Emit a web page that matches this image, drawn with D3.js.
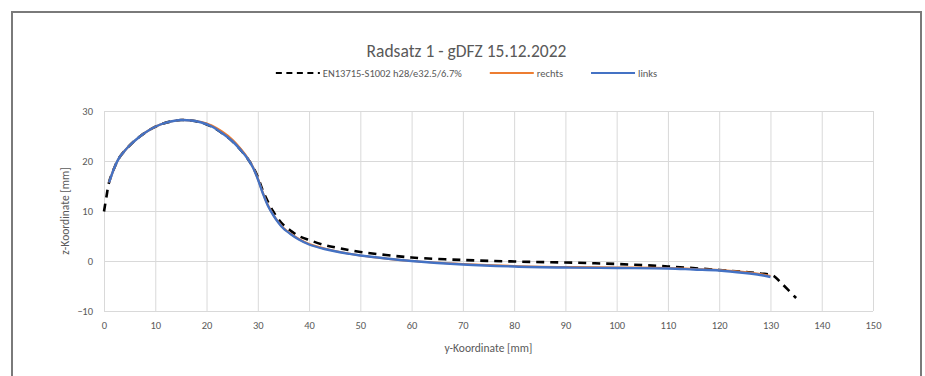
<!DOCTYPE html>
<html>
<head>
<meta charset="utf-8">
<script src="https://cdn.jsdelivr.net/npm/d3@7"></script>
<style>
  html, body { margin: 0; padding: 0; background: #fff; }
  svg { display: block; font-family: Carlito, Calibri, Lato, sans-serif; }
</style>
</head>
<body>
<svg id="chart" width="925" height="376"></svg>
<script>
// ---- data ----
const chartTitle = "Radsatz 1 - gDFZ 15.12.2022";
const seriesNames = ["EN13715-S1002 h28/e32.5/6.7%", "rechts", "links"];
const xTicks = [0, 10, 20, 30, 40, 50, 60, 70, 80, 90, 100, 110, 120, 130, 140, 150];
const yTicks = [-10, 0, 10, 20, 30];
const xLabel = "y-Koordinate [mm]";
const yLabel = "z-Koordinate [mm]";

const normY = [0, 0.5, 1, 2, 3, 5, 7, 9, 11, 13, 15, 17, 19, 21, 23, 25, 27, 28, 29, 30, 31, 32, 33, 34, 35, 36.5, 38, 40, 43, 46, 50, 55, 60, 70, 80, 90, 100, 110, 120, 125, 128, 130.5, 132, 135];
const normZ = [9.9, 13.0, 15.8, 18.6, 20.7, 23.1, 24.9, 26.3, 27.3, 27.9, 28.2, 28.1, 27.7, 26.9, 25.6, 24.0, 21.8, 20.5, 18.9, 16.8, 14.0, 11.8, 9.9, 8.4, 7.2, 6.0, 5.0, 4.2, 3.2, 2.55, 1.8, 1.2, 0.7, 0.2, -0.1, -0.3, -0.6, -1.1, -1.8, -2.2, -2.5, -2.9, -4.3, -7.4];

const rechtsY = [1, 2, 3, 4, 5, 7, 9, 11, 13, 15, 17, 19, 21, 23, 25, 27, 28, 29, 30, 31, 32, 33, 34, 35, 36.5, 38, 40, 43, 46, 50, 55, 60, 70, 80, 90, 100, 110, 115, 120, 125, 128, 130];
const rechtsZ = [15.7, 18.6, 20.7, 22.0, 23.1, 24.9, 26.3, 27.3, 27.9, 28.2, 28.1, 27.8, 27.1, 25.9, 24.3, 22.0, 20.6, 18.9, 16.5, 13.6, 11.1, 9.3, 7.8, 6.6, 5.4, 4.4, 3.4, 2.5, 1.8, 1.1, 0.5, 0.0, -0.6, -1.0, -1.2, -1.3, -1.4, -1.6, -1.8, -2.2, -2.6, -3.0];

const linksY = [1, 2, 3, 4, 5, 7, 9, 11, 13, 15, 17, 19, 21, 23, 25, 27, 28, 29, 30, 31, 32, 33, 34, 35, 36.5, 38, 40, 43, 46, 50, 55, 60, 70, 80, 90, 100, 110, 115, 120, 125, 128, 130];
const linksZ = [15.7, 18.6, 20.7, 22.0, 23.1, 24.9, 26.3, 27.3, 27.9, 28.2, 28.1, 27.7, 26.9, 25.6, 24.0, 21.8, 20.5, 18.8, 16.4, 13.5, 11.0, 9.2, 7.7, 6.5, 5.3, 4.3, 3.3, 2.4, 1.75, 1.1, 0.5, 0.0, -0.7, -1.1, -1.3, -1.4, -1.5, -1.7, -1.9, -2.4, -2.8, -3.2];

const colors = ["#000000", "#ED7D31", "#4472C4"];

// ---- layout ----
const svg = d3.select("#chart");
const textColor = "#595959";
const gridColor = "#d9d9d9";
const font = "Carlito, Calibri, Lato, sans-serif";

// outer frame
svg.append("rect")
  .attr("x", 12).attr("y", 12).attr("width", 909).attr("height", 420)
  .attr("fill", "#fff").attr("stroke", "#7a7a7a").attr("stroke-width", 2);

const x = d3.scaleLinear().domain([0, 150]).range([104, 873]);
const y = d3.scaleLinear().domain([-10, 30]).range([311, 111]);

// grid + tick labels
const xAxis = svg.append("g").attr("transform", `translate(0,${y(-10)})`)
  .call(d3.axisBottom(x).tickValues(xTicks).tickSize(-(y(-10) - y(30))).tickPadding(11).tickFormat(d3.format("d")));
const yAxis = svg.append("g").attr("transform", `translate(${x(0)},0)`)
  .call(d3.axisLeft(y).tickValues(yTicks).tickSize(-(x(150) - x(0))).tickPadding(11).tickFormat(d3.format("d")));
[xAxis, yAxis].forEach(g => {
  g.select(".domain").remove();
  g.selectAll(".tick line").attr("stroke", gridColor).attr("stroke-width", 1);
  g.selectAll(".tick text").attr("fill", textColor).style("font-size", "10.5px")
    .style("font-family", font);
});

// axis titles
svg.append("text").attr("x", (x(0) + x(150)) / 2).attr("y", 352)
  .attr("text-anchor", "middle").attr("fill", textColor).style("font-size", "11.5px").text(xLabel);
svg.append("text").attr("transform", `translate(69,${(y(-10) + y(30)) / 2}) rotate(-90)`)
  .attr("text-anchor", "middle").attr("fill", textColor).style("font-size", "11.5px").text(yLabel);

// title
svg.append("text").attr("x", 466.5).attr("y", 57)
  .attr("text-anchor", "middle").attr("fill", textColor).style("font-size", "17.5px").text(chartTitle);

// lines (dashed reference first, measured profiles on top)
const line = d3.line().x(d => x(d[0])).y(d => y(d[1])).curve(d3.curveCatmullRom.alpha(0.5));
const data = [
  d3.zip(normY, normZ),
  d3.zip(rechtsY, rechtsZ),
  d3.zip(linksY, linksZ)
];
svg.append("path").datum(data[0]).attr("d", line).attr("fill", "none")
  .attr("stroke", colors[0]).attr("stroke-width", 2.6).attr("stroke-dasharray", "8,6");
svg.append("path").datum(data[1]).attr("d", line).attr("fill", "none")
  .attr("stroke", colors[1]).attr("stroke-width", 2.2);
svg.append("path").datum(data[2]).attr("d", line).attr("fill", "none")
  .attr("stroke", colors[2]).attr("stroke-width", 2.4);

// legend (laid out from measured text widths, centred on the chart area)
const legendY = 73;
const lineLen = 44, lineGap = 3, itemGap = 28;
const lg = svg.append("g");
let cx = 0;
seriesNames.forEach((name, i) => {
  const l = lg.append("line").attr("x1", cx).attr("x2", cx + lineLen)
    .attr("y1", legendY).attr("y2", legendY)
    .attr("stroke", colors[i]).attr("stroke-width", 2.2);
  if (i === 0) l.attr("stroke-dasharray", "6,4.5");
  const t = lg.append("text").attr("x", cx + lineLen + lineGap).attr("y", legendY + 3.5)
    .attr("fill", textColor).style("font-size", "10.5px").text(name);
  cx += lineLen + lineGap + t.node().getComputedTextLength() + itemGap;
});
const legendW = cx - itemGap;
lg.attr("transform", `translate(${466.5 - legendW / 2},0)`);
</script>
</body>
</html>
